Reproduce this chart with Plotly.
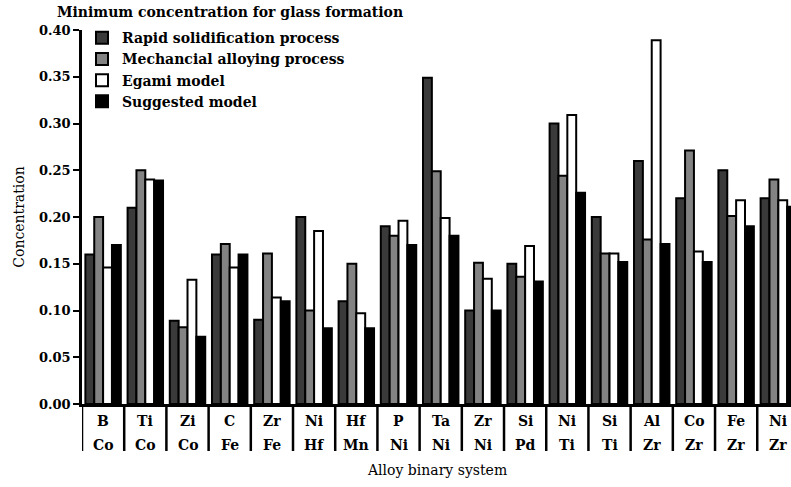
import plotly.graph_objects as go

top_el = ["B", "Ti", "Zi", "C", "Zr", "Ni", "Hf", "P", "Ta", "Zr", "Si", "Ni", "Si", "Al", "Co", "Fe", "Ni"]
bot_el = ["Co", "Co", "Co", "Fe", "Fe", "Hf", "Mn", "Ni", "Ni", "Ni", "Pd", "Ti", "Ti", "Zr", "Zr", "Zr", "Zr"]
categories = [f"{a}-{b}" for a, b in zip(top_el, bot_el)]

rapid = [0.16, 0.21, 0.089, 0.16, 0.09, 0.20, 0.11, 0.19, 0.349, 0.10, 0.15, 0.30, 0.20, 0.26, 0.22, 0.25, 0.22]
mech = [0.20, 0.25, 0.082, 0.171, 0.161, 0.10, 0.15, 0.18, 0.249, 0.151, 0.136, 0.244, 0.161, 0.176, 0.271, 0.201, 0.24]
egami = [0.146, 0.24, 0.133, 0.146, 0.114, 0.185, 0.097, 0.196, 0.199, 0.134, 0.169, 0.309, 0.161, 0.389, 0.163, 0.218, 0.218]
suggested = [0.17, 0.239, 0.072, 0.16, 0.11, 0.081, 0.081, 0.17, 0.18, 0.10, 0.131, 0.226, 0.152, 0.171, 0.152, 0.19, 0.211]

series = [
    ("Rapid solidification process", rapid, "#3a3a3a"),
    ("Mechancial alloying process", mech, "#838383"),
    ("Egami model", egami, "#ffffff"),
    ("Suggested model", suggested, "#000000"),
]

FONT = "DejaVu Serif, serif"

fig = go.Figure()
for name, vals, col in series:
    fig.add_trace(go.Bar(
        x=categories, y=vals, name=name,
        marker=dict(color=col, line=dict(color="#000000", width=2)),
    ))

# category separators below the axis
for i in range(len(categories) + 1):
    fig.add_shape(type="line", xref="x", yref="paper",
                  x0=i - 0.5, x1=i - 0.5, y0=0, y1=-47 / 374,
                  line=dict(color="black", width=2.5))

# two-row category labels
for i, (a, b) in enumerate(zip(top_el, bot_el)):
    fig.add_annotation(x=categories[i], y=0, xref="x", yref="paper", text=a,
                       showarrow=False, yanchor="middle", yshift=-17,
                       font=dict(family=FONT, size=14, color="black", weight="bold"))
    fig.add_annotation(x=categories[i], y=0, xref="x", yref="paper", text=b,
                       showarrow=False, yanchor="middle", yshift=-41,
                       font=dict(family=FONT, size=14, color="black", weight="bold"))

fig.add_annotation(x=0.5, y=0, xref="paper", yref="paper", text="Alloy binary system",
                   showarrow=False, yanchor="middle", yshift=-66,
                   font=dict(family=FONT, size=14, color="black"))

fig.update_layout(
    width=791, height=487,
    margin=dict(l=82, r=0, t=30, b=83),
    paper_bgcolor="white", plot_bgcolor="white",
    barmode="group", bargap=0.16, bargroupgap=0,
    font=dict(family=FONT, size=14, color="black"),
    title=dict(text="Minimum concentration for glass formation",
               x=57 / 791, xanchor="left", y=1 - 12 / 487, yanchor="middle",
               font=dict(family=FONT, size=14, color="black", weight="bold")),
    legend=dict(x=0.0, y=1.021, xanchor="left", yanchor="top",
                bgcolor="rgba(0,0,0,0)",
                font=dict(family=FONT, size=14, color="black", weight="bold"),
                tracegroupgap=0, itemwidth=30),
    showlegend=True,
)
fig.update_xaxes(showticklabels=False, ticks="", showline=True, linecolor="black",
                 linewidth=2.5, showgrid=False, zeroline=False, range=[-0.5, 16.3],
                 automargin=False)
fig.update_yaxes(range=[0, 0.40], dtick=0.05, tickformat=".2f", showline=True,
                 linecolor="black", linewidth=2.5, ticks="outside", ticklen=6,
                 tickwidth=2, tickcolor="black", showgrid=False, zeroline=False,
                 automargin=False,
                 tickfont=dict(family=FONT, size=13, color="black", weight="bold"),
                 title=dict(text="Concentration", standoff=12,
                            font=dict(family=FONT, size=14, color="black")))

fig.write_html("out.html", config={"displayModeBar": False},
               post_script="document.body.style.margin='0px';")
